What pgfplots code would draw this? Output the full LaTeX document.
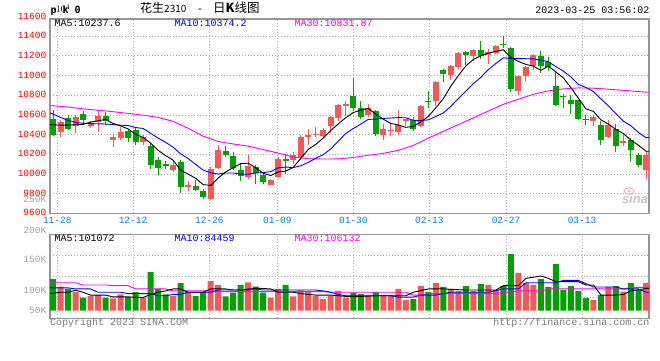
\documentclass[border=0pt]{standalone}
\usepackage{fontspec}
\setmainfont{Liberation Sans}
\setsansfont{Liberation Sans}
\setmonofont{Liberation Mono}
\newfontfamily\cjk{Noto Sans CJK SC}
\newfontfamily\pkfont{DejaVu Sans Mono}
\usepackage{pgfplots}
\pgfplotsset{compat=1.18}
\usepackage{pgfplotstable}

\definecolor{cUp}{RGB}{246,88,88}
\definecolor{cDn}{RGB}{0,160,0}
\definecolor{cGrid}{RGB}{175,175,175}
\definecolor{cFrame}{RGB}{150,150,150}
\definecolor{cDate}{RGB}{0,128,208}
\definecolor{cMag}{RGB}{255,0,255}
\definecolor{cBlue}{RGB}{0,0,255}
\definecolor{cTxt}{RGB}{120,120,120}
\definecolor{cVl}{RGB}{160,160,160}

% i open high low close volume(K)
\pgfplotstableread{
i o h l c v
0 10563 10654 10383 10400 144
1 10424 10552 10376 10532 109
2 10569 10597 10444 10461 99
3 10485 10603 10417 10580 86
4 10614 10637 10512 10546 59
5 10485 10536 10468 10519 68
6 10525 10654 10424 10593 71
7 10593 10627 10502 10536 59
8 10342 10400 10271 10373 56
9 10363 10478 10349 10424 74
10 10434 10451 10322 10363 62
11 10444 10464 10298 10322 84
12 10322 10400 10298 10373 59
13 10288 10315 10051 10088 175
14 10146 10170 9993 10058 99
15 10098 10136 10051 10088 74
16 10044 10136 10017 10095 68
17 10126 10140 9807 9868 125
18 9875 9925 9824 9888 86
19 9881 9936 9830 9841 66
20 9824 9847 9746 9766 84
21 9746 10068 9732 10054 135
22 10058 10298 10051 10241 117
23 10237 10281 10176 10197 65
24 10186 10220 10044 10058 82
25 10044 10112 9925 9976 117
26 9966 10197 9953 10078 129
27 10068 10095 9898 10010 109
28 9986 10020 9902 9915 82
29 9891 9952 9885 9942 59
30 9966 10170 9959 10153 99
31 10153 10207 10000 10129 117
32 10146 10224 10098 10193 65
33 10176 10400 10146 10373 93
34 10383 10461 10298 10397 84
35 10393 10478 10376 10410 68
36 10390 10464 10366 10451 53
37 10492 10587 10417 10580 68
38 10569 10715 10536 10705 90
39 10695 10746 10593 10715 59
40 10790 10976 10644 10668 82
41 10671 10746 10559 10576 75
42 10603 10715 10580 10671 68
43 10644 10654 10383 10410 84
44 10397 10512 10349 10461 68
45 10441 10519 10383 10451 68
46 10427 10648 10400 10495 99
47 10546 10559 10485 10553 49
48 10553 10580 10441 10458 53
49 10485 10705 10478 10688 112
50 10746 10841 10671 10732 84
51 10739 10942 10695 10932 126
52 11054 11068 10939 11017 108
53 11010 11112 10959 11095 99
54 11088 11237 11068 11230 90
55 11241 11247 11105 11214 112
56 11197 11271 11149 11264 90
57 11258 11349 11169 11203 122
58 11210 11271 11122 11237 117
59 11230 11315 11220 11305 94
60 11325 11407 11281 11308 112
61 11281 11288 10830 10868 258
62 10841 11010 10803 11000 172
63 10993 11095 10942 11088 126
64 11095 11220 11061 11214 117
65 11203 11254 11027 11095 144
66 11139 11190 11044 11085 108
67 10898 11051 10688 10705 212
68 10797 10810 10671 10783 94
69 10749 10800 10614 10715 112
70 10749 10756 10550 10559 90
71 10559 10603 10502 10549 58
72 10536 10603 10492 10576 49
73 10502 10536 10298 10349 71
74 10376 10553 10366 10502 108
75 10461 10512 10220 10288 112
76 10322 10410 10288 10336 87
77 10349 10363 10119 10241 126
78 10197 10214 10071 10095 94
79 10044 10231 9949 10197 126
}\kdata

\pgfplotstableread{
i m
-0.4 10502
0 10500
1 10497
2 10497
3 10500
4 10504
5 10528
6 10540
7 10555
8 10513
9 10489
10 10458
11 10404
12 10371
13 10314
14 10241
15 10186
16 10140
17 10039
18 9999
19 9956
20 9892
21 9883
22 9958
23 10020
24 10063
25 10105
26 10110
27 10064
28 10007
29 9984
30 10020
31 10030
32 10066
33 10158
34 10249
35 10300
36 10365
37 10442
38 10509
39 10572
40 10624
41 10649
42 10667
43 10608
44 10557
45 10514
46 10498
47 10474
48 10484
49 10529
50 10585
51 10673
52 10765
53 10893
54 11001
55 11098
56 11164
57 11201
58 11230
59 11245
60 11263
61 11184
62 11144
63 11114
64 11096
65 11053
66 11096
67 11037
68 10976
69 10877
70 10769
71 10662
72 10636
73 10550
74 10507
75 10453
76 10410
77 10343
78 10292
79 10231
79.4 10231
}\mafive

\pgfplotstableread{
i m
-0.4 10620
0 10610
1 10575
2 10545
3 10525
4 10515
5 10512
6 10510
7 10508
8 10502
9 10496
10 10493
11 10472
12 10463
13 10414
14 10365
15 10322
16 10272
17 10205
18 10157
19 10098
20 10039
21 10012
22 9999
23 10010
24 10010
25 9998
26 9997
27 10011
28 10014
29 10024
30 10062
31 10070
32 10065
33 10083
34 10117
35 10160
36 10197
37 10254
38 10333
39 10411
40 10462
41 10507
42 10555
43 10558
44 10565
45 10569
46 10573
47 10571
48 10546
49 10543
50 10550
51 10585
52 10620
53 10688
54 10765
55 10841
56 10918
57 10983
58 11061
59 11123
60 11181
61 11174
62 11172
63 11172
64 11170
65 11158
66 11140
67 11091
68 11045
69 10986
70 10911
71 10879
72 10837
73 10763
74 10692
75 10611
76 10536
77 10490
78 10421
79 10369
79.4 10369
}\maten

\pgfplotstableread{
i m
-0.4 10695
0 10693
2 10681
4 10662
6 10648
8 10633
10 10616
12 10598
14 10575
16 10535
18 10465
20 10385
22 10330
24 10305
26 10283
28 10248
30 10212
32 10172
34 10155
36 10152
38 10153
40 10168
42 10190
44 10210
46 10240
48 10290
50 10364
52 10433
54 10502
56 10570
58 10640
60 10708
62 10760
64 10810
66 10845
68 10865
70 10875
72 10872
74 10862
76 10850
79 10832
79.4 10830
}\mathirty

\pgfplotstableread{
i m
-0.4 79
0 79
1 84
2 84
3 93
4 84
5 71
7 71
8 63
10 63
12 60
13 74
14 84
15 90
16 99
17 99
18 84
20 84
21 99
23 99
24 94
26 94
27 103
29 99
30 84
32 84
33 78
35 71
37 71
39 65
41 65
43 68
47 68
48 84
50 99
52 99
55 94
59 94
60 114
62 114
63 147
65 158
66 147
67 132
70 132
71 117
72 117
73 71
75 71
76 74
77 90
79 101
79.4 101
}\vfive

\pgfplotstableread{
i m
-0.4 104
0 104
2 104
3 99
5 99
6 84
9 84
10 78
13 78
14 68
15 68
16 74
17 74
18 84
21 84
22 94
25 94
26 99
27 99
28 94
35 94
36 90
37 84
38 74
39 68
45 68
46 62
48 62
49 71
51 71
53 84
58 84
60 99
62 99
63 127
67 127
68 138
70 138
72 108
75 108
76 99
78 99
79 84
79.4 84
}\vten

\pgfplotstableread{
i m
-0.4 127
3 127
4 117
7 117
8 114
10 114
11 99
15 99
16 90
21 90
22 87
36 87
37 84
47 84
48 71
49 71
50 78
59 78
60 84
61 84
62 90
65 90
66 99
76 99
77 106
79.4 106
}\vthirty

\newcommand\mono[1]{\fontsize{#1}{#1}\selectfont\ttfamily}

\begin{document}
\begin{tikzpicture}
\path[fill=white,use as bounding box] (0pt,0pt) rectangle (660pt,360pt);

% ---------------- price panel ----------------
\begin{axis}[
  at={(50pt,146.7pt)}, anchor=south west, scale only axis,
  width=599pt, height=194.3pt,
  xmin=-0.4, xmax=79.4, ymin=9600, ymax=11575.6,
  axis line style={draw=cFrame, line width=1.2pt},
  xtick={0.573,10.658,20.823,29.883,40.008,50.133,60.352,70.477},
  ytick={9800,10000,10200,10400,10600,10800,11000,11200,11400},
  xticklabels={}, yticklabels={},
  major tick length=0pt, tick style={draw=none},
  xmajorgrids, ymajorgrids,
  major grid style={draw=cGrid, line width=0.9pt, dash pattern=on 1pt off 2pt},
]
% wicks
\addplot[draw=none, mark=none, forget plot,
  restrict expr to domain={\thisrow{c}-\thisrow{o}}{0:100000},
  error bars/.cd, y dir=both, y explicit, error mark=none,
  error bar style={draw=cUp, line width=1pt, solid}]
  table[x=i, y expr={(\thisrow{h}+\thisrow{l})/2}, y error expr={(\thisrow{h}-\thisrow{l})/2}] {\kdata};
\addplot[draw=none, mark=none, forget plot,
  restrict expr to domain={\thisrow{c}-\thisrow{o}}{-100000:-0.001},
  error bars/.cd, y dir=both, y explicit, error mark=none,
  error bar style={draw=cDn, line width=1pt, solid}]
  table[x=i, y expr={(\thisrow{h}+\thisrow{l})/2}, y error expr={(\thisrow{h}-\thisrow{l})/2}] {\kdata};
% bodies
\addplot[draw=none, mark=none, forget plot,
  restrict expr to domain={\thisrow{c}-\thisrow{o}}{0:100000},
  error bars/.cd, y dir=both, y explicit, error mark=none,
  error bar style={draw=cUp, line width=6pt, solid}]
  table[x=i, y expr={(\thisrow{o}+\thisrow{c})/2}, y error expr={max(abs(\thisrow{c}-\thisrow{o})/2,5)}] {\kdata};
\addplot[draw=none, mark=none, forget plot,
  restrict expr to domain={\thisrow{c}-\thisrow{o}}{-100000:-0.001},
  error bars/.cd, y dir=both, y explicit, error mark=none,
  error bar style={draw=cDn, line width=6pt, solid}]
  table[x=i, y expr={(\thisrow{o}+\thisrow{c})/2}, y error expr={max(abs(\thisrow{c}-\thisrow{o})/2,5)}] {\kdata};
% moving averages
\addplot[cMag, line width=0.9pt, mark=none] table[x=i,y=m] {\mathirty};
\addplot[cBlue, line width=0.9pt, mark=none] table[x=i,y=m] {\maten};
\addplot[black, line width=0.9pt, mark=none] table[x=i,y=m] {\mafive};
\end{axis}

% ---------------- volume panel ----------------
\begin{axis}[
  at={(50pt,41.7pt)}, anchor=south west, scale only axis,
  width=599pt, height=84pt,
  xmin=-0.4, xmax=79.4, ymin=-34.58, ymax=347.62,
  axis line style={draw=cFrame, line width=1.2pt},
  xtick={0.573,10.658,20.823,29.883,40.008,50.133,60.352,70.477},
  ytick={61.4,156.5,252},
  xticklabels={}, yticklabels={},
  major tick length=0pt, tick style={draw=none},
  xmajorgrids, ymajorgrids,
  major grid style={draw=cGrid, line width=0.9pt, dash pattern=on 1pt off 2pt},
]
\addplot[ybar, bar width=6pt, bar shift=0pt, fill=cUp, draw=none, forget plot,
  restrict expr to domain={\thisrow{c}-\thisrow{o}}{0:100000}]
  table[x=i, y=v] {\kdata};
\addplot[ybar, bar width=6pt, bar shift=0pt, fill=cDn, draw=none, forget plot,
  restrict expr to domain={\thisrow{c}-\thisrow{o}}{-100000:-0.001}]
  table[x=i, y=v] {\kdata};
\addplot[cMag, line width=0.9pt, mark=none] table[x=i,y=m] {\vthirty};
\addplot[cBlue, line width=0.9pt, mark=none] table[x=i,y=m] {\vten};
\addplot[black, line width=0.9pt, mark=none] table[x=i,y=m] {\vfive};
\end{axis}

% ---------------- texts ----------------
\node[anchor=mid west, inner sep=0pt] at (50.3pt,348.7pt) {\pkfont\fontsize{10}{10}\selectfont\bfseries p k 0};
\node[anchor=mid west, inner sep=0pt] at (140pt,350pt) {\cjk\fontsize{12}{12}\selectfont 花生{\fontsize{10}{10}\selectfont 2310}};
\node[anchor=mid, inner sep=0pt, font=\mono{11}] at (200pt,350pt) {-};
\node[anchor=mid west, inner sep=0pt] at (213pt,350pt) {\cjk\fontsize{12.5}{12.5}\selectfont 日\textbf{K}线图};
\node[anchor=mid east, inner sep=0pt, font=\mono{10}] at (649.5pt,349pt) {2023-03-25 03:56:02};

\node[anchor=mid west, inner sep=0pt, font=\mono{10}, text=black] at (54.3pt,336pt) {MA5:10237.6};
\node[anchor=mid west, inner sep=0pt, font=\mono{10}, text=cBlue] at (174.3pt,336pt) {MA10:10374.2};
\node[anchor=mid west, inner sep=0pt, font=\mono{10}, text=cMag] at (294.3pt,336pt) {MA30:10831.87};

\foreach \p in {9600,9800,10000,10200,10400,10600,10800,11000,11200,11400,11600}{
  \node[anchor=mid east, inner sep=0pt, font=\mono{9.5}, text=red] at (46.5pt,{146.7pt+(\p-9600)*0.09835pt}) {\p};
}
\node[anchor=mid east, inner sep=0pt, font=\mono{9.5}, text=cVl] at (46.5pt,160pt) {250K};

\foreach \xx/\lab in {57.3pt/11-28,133pt/12-12,209.3pt/12-26,277.3pt/01-09,353.3pt/01-30,429.3pt/02-13,506pt/02-27,582pt/03-13}{
  \node[anchor=mid, inner sep=0pt, font=\mono{9.5}, text=cDate] at (\xx,139.5pt) {\lab};
}

\node[anchor=mid east, inner sep=0pt, font=\mono{9.5}, text=cVl] at (46.5pt,129.3pt) {200K};
\node[anchor=mid east, inner sep=0pt, font=\mono{9.5}, text=cVl] at (46.5pt,99.7pt) {150K};
\node[anchor=mid east, inner sep=0pt, font=\mono{9.5}, text=cVl] at (46.5pt,69.3pt) {100K};
\node[anchor=mid east, inner sep=0pt, font=\mono{9.5}, text=cVl] at (46.5pt,49.3pt) {50K};

\node[anchor=mid west, inner sep=0pt, font=\mono{10}, text=black] at (54.3pt,121pt) {MA5:101072};
\node[anchor=mid west, inner sep=0pt, font=\mono{10}, text=cBlue] at (174.3pt,121pt) {MA10:84459};
\node[anchor=mid west, inner sep=0pt, font=\mono{10}, text=cMag] at (294.3pt,121pt) {MA30:106132};

\node[anchor=mid west, inner sep=0pt, font=\mono{10}, text=cTxt] at (50pt,36.7pt) {Copyright 2023 SINA.COM};
\node[anchor=mid east, inner sep=0pt, font=\mono{10}, text=cTxt] at (649.5pt,36.7pt) {http://finance.sina.com.cn};

% sina watermark
\draw[red!30, line width=1pt] (629pt,169pt) ellipse (5pt and 3.2pt);
\fill[red!30] (629pt,169pt) circle (1.3pt);
\node[anchor=mid, inner sep=0pt, text=gray!45, font=\sffamily\bfseries\itshape\fontsize{13}{13}\selectfont] at (635pt,159.5pt) {sina};
\end{tikzpicture}
\end{document}
